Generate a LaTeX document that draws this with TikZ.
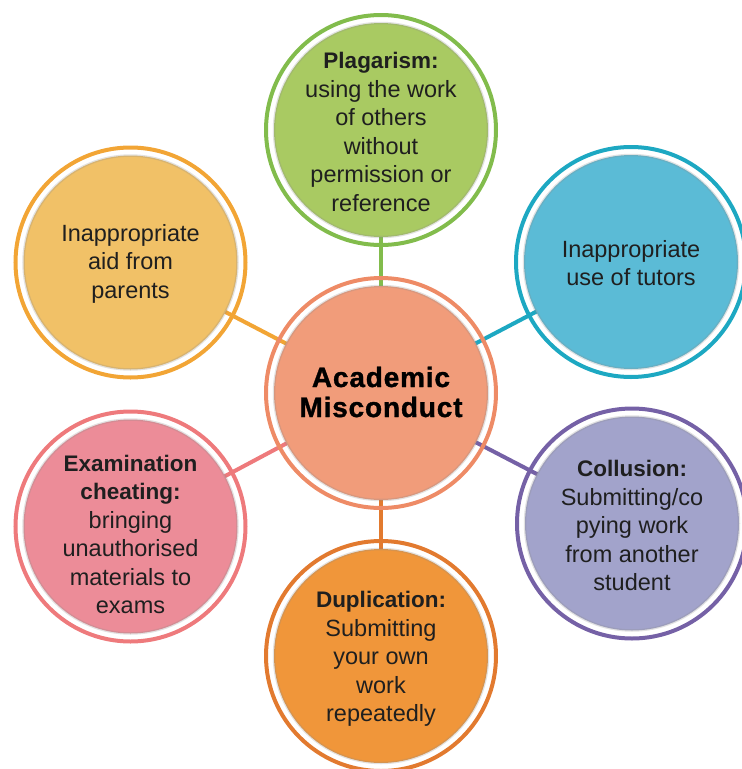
\documentclass[tikz,border=0pt]{standalone}
\usepackage{fontspec}
\setmainfont{Liberation Sans}
\usetikzlibrary{backgrounds}
\definecolor{salmonFill}{HTML}{F19C7A}
\definecolor{salmonRing}{HTML}{EE8B66}
\definecolor{greenFill}{HTML}{A9CA62}
\definecolor{greenRing}{HTML}{82BC4C}
\definecolor{cyanFill}{HTML}{5BBBD6}
\definecolor{cyanRing}{HTML}{1DA8C2}
\definecolor{purpleFill}{HTML}{A2A3CB}
\definecolor{purpleRing}{HTML}{7561A6}
\definecolor{orangeFill}{HTML}{F0963A}
\definecolor{orangeRing}{HTML}{E27A2F}
\definecolor{pinkFill}{HTML}{EC8C98}
\definecolor{pinkRing}{HTML}{EE7A7C}
\definecolor{yellowFill}{HTML}{F1C167}
\definecolor{yellowRing}{HTML}{F2A535}
\begin{document}
\begin{tikzpicture}[x=1pt,y=-1pt,
  ring/.style={circle, draw=#1, line width=4pt, minimum size=230pt, inner sep=0pt},
  disc/.style={circle, fill=#1, draw=black!45, draw opacity=0.25, line width=2.5pt, minimum size=214pt, inner sep=0pt},
  link/.style={draw=#1, line width=4pt},
  txt/.style={align=center, inner sep=0pt, font=\fontsize{23.5}{28.5}\selectfont, text=black!88}]
\useasboundingbox (0,0) rectangle (742,769);
\clip (0,0) rectangle (742,769);
% rings
\node[ring=salmonRing] (rC) at (381,393) {};
\node[ring=greenRing]  (rT) at (381,130) {};
\node[ring=cyanRing]   (rTR) at (631,262) {};
\node[ring=purpleRing] (rBR) at (632,523.5) {};
\node[ring=orangeRing] (rB) at (381,656) {};
\node[ring=pinkRing]   (rBL) at (130.5,526.5) {};
\node[ring=yellowRing] (rTL) at (130.5,262.5) {};
% discs
\node[disc=salmonFill] (C) at (rC) {};
\node[disc=greenFill]  (T) at (rT) {};
\node[disc=cyanFill]   (TR) at (rTR) {};
\node[disc=purpleFill] (BR) at (rBR) {};
\node[disc=orangeFill] (B) at (rB) {};
\node[disc=pinkFill]   (BL) at (rBL) {};
\node[disc=yellowFill] (TL) at (rTL) {};
% connectors
\begin{scope}[on background layer]
\draw[link=greenRing]  (C.center) -- (T.center);
\draw[link=cyanRing]   (C.center) -- (TR.center);
\draw[link=purpleRing] (C.center) -- (BR.center);
\draw[link=orangeRing] (C.center) -- (B.center);
\draw[link=pinkRing]   (C.center) -- (BL.center);
\draw[link=yellowRing] (C.center) -- (TL.center);
\end{scope}
% texts
\newcommand{\hdr}[1]{{\fontsize{22.5}{28.5}\selectfont\bfseries #1}}
\node[txt, font=\fontsize{28}{30}\selectfont\bfseries\addfontfeatures{LetterSpace=3,FakeBold=1.2}, text=black] (tC) at ([yshift=1pt]C.center) {Academic\\Misconduct};
\node[txt] (tT) at ([yshift=-2pt]T.center) {\hdr{Plagarism:}\\using the work\\of others\\without\\permission or\\reference};
\node[txt] (tTR) at ([yshift=-1pt]TR.center) {Inappropriate\\use of tutors};
\node[txt] (tBR) at ([yshift=-2pt]BR.center) {\hdr{Collusion:}\\Submitting/co\\pying work\\from another\\student};
\node[txt] (tB) at ([yshift=-3pt]B.center) {\hdr{Duplication:}\\Submitting\\your own\\work\\repeatedly};
\node[txt] (tBL) at ([yshift=-8pt]BL.center) {\hdr{Examination}\\\hdr{cheating:}\\bringing\\unauthorised\\materials to\\exams};
\node[txt] (tTL) at ([yshift=-1pt]TL.center) {Inappropriate\\aid from\\parents};
\end{tikzpicture}
\end{document}
